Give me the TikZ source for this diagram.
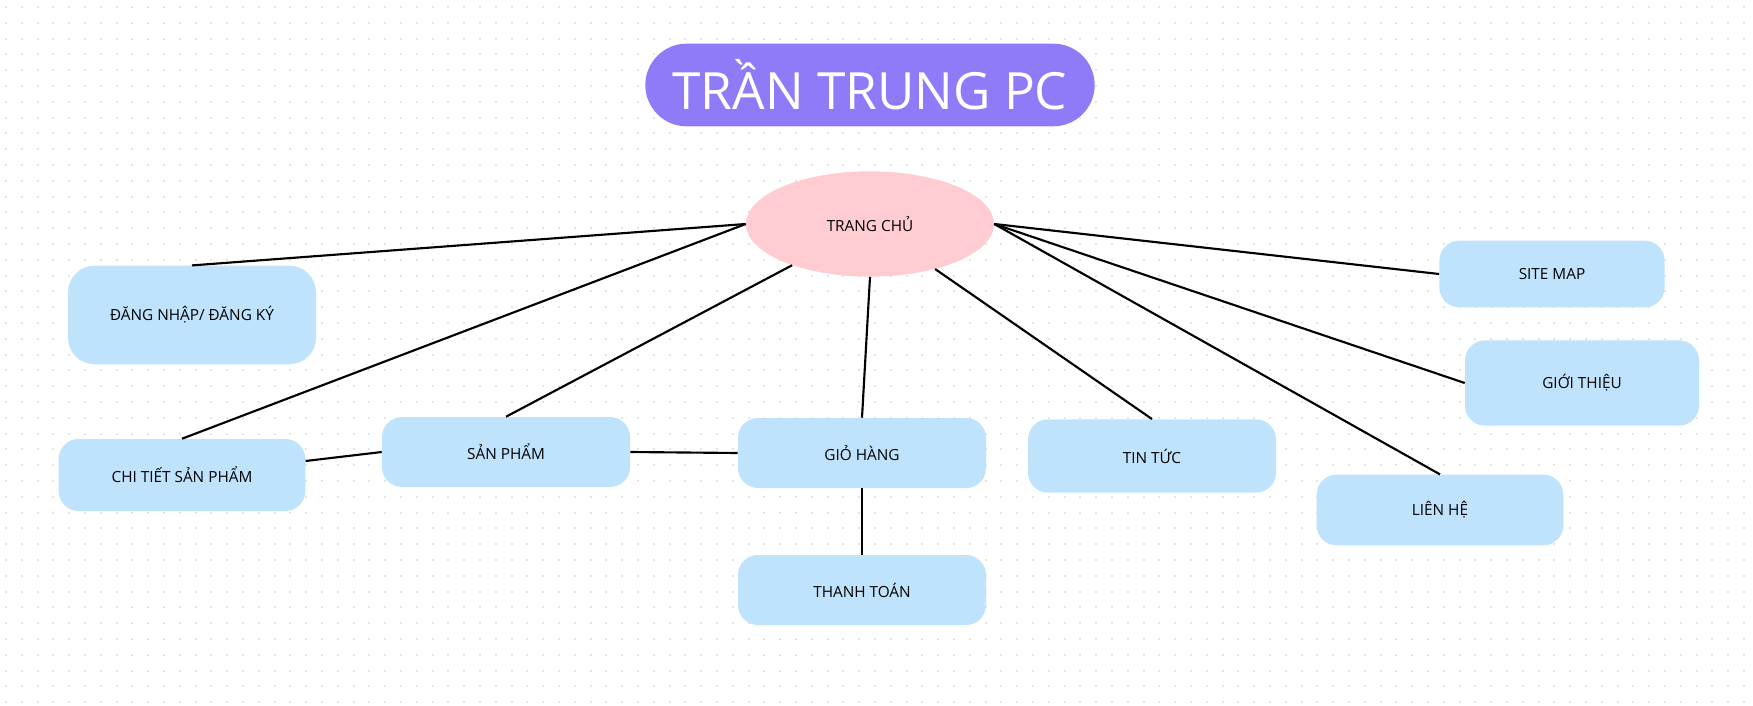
\documentclass[tikz,border=0pt]{standalone}
\usepackage{fontspec}
\setmainfont{Open Sans}
\usetikzlibrary{shapes.geometric}
\definecolor{titlepurple}{RGB}{143,123,248}
\definecolor{homepink}{RGB}{255,204,210}
\definecolor{pagebox}{RGB}{191,227,253}
\definecolor{dotgray}{RGB}{228,228,228}
\tikzset{
    %Define style for page boxes
    box/.style={
           rectangle,
           rounded corners=15pt,
           fill=pagebox,
           minimum width=186pt,
           minimum height=53pt,
           inner sep=0pt,
           font=\fontsize{11.5}{14}\selectfont,
           text centered},
 %
  titlebox/.style={
           rectangle,
           rounded corners=31pt,
           fill=titlepurple,
           text=white,
           minimum width=337pt,
           minimum height=62pt,
           inner sep=0pt,
           font=\fontsize{38.5}{46}\selectfont},
 %
  homenode/.style={
           ellipse,
           fill=homepink,
           minimum width=186pt,
           minimum height=79pt,
           inner sep=0pt,
           font=\fontsize{11.5}{14}\selectfont},
 %
    % Define connector style
    link/.style={
           line width=1.6pt,
           black},
 %
    dotrow/.style={
           dotgray,
           line width=1.5pt,
           dash pattern=on 1.5pt off 10.35pt}
}

\begin{document}
\begin{tikzpicture}[x=0.75pt,y=-0.75pt]
  \useasboundingbox (0,0) rectangle (1753,706);
  \fill[white] (0,0) rectangle (1753,706);
  % canvas dots
  \foreach \row in {7,22.8,...,706}
    \draw[dotrow] (5,\row) -- (1753,\row);

  \node[titlebox] (title) at (870,85) {TRẦN TRUNG PC};
  \node[homenode] (home) at (870,224) {TRANG CHỦ};

  \node[box, minimum height=74pt, rounded corners=20pt] (login) at (192,315) {ĐĂNG NHẬP/ ĐĂNG KÝ};
  \node[box, minimum width=185pt, minimum height=54pt] (detail) at (182,475) {CHI TIẾT SẢN PHẨM};
  \node[box, minimum height=52.5pt] (product) at (506,452) {SẢN PHẨM};
  \node[box, minimum height=52.5pt] (cart) at (862,453) {GIỎ HÀNG};
  \node[box, minimum height=52.5pt] (pay) at (862,590) {THANH TOÁN};
  \node[box, minimum height=55pt] (news) at (1152,456) {TIN TỨC};
  \node[box, minimum width=185pt] (contact) at (1440,510) {LIÊN HỆ};
  \node[box, minimum width=175.5pt, minimum height=64pt] (about) at (1582,383) {GIỚI THIỆU};
  \node[box, minimum width=169pt, minimum height=50pt] (sitemap) at (1552,274) {SITE MAP};

  \path[link]
    (home.west) edge (login.north)
    (home.west) edge (detail.north)
    (home) edge (product.north)
    (home.south) edge (cart.north)
    (home) edge (news.north)
    (home.east) edge (sitemap.west)
    (home.east) edge (about.west)
    (home.east) edge (contact.north)
    ([yshift=10.5pt]detail.east) edge (product.west)
    (product.east) edge (cart.west)
    (cart.south) edge (pay.north);
\end{tikzpicture}
\end{document}
